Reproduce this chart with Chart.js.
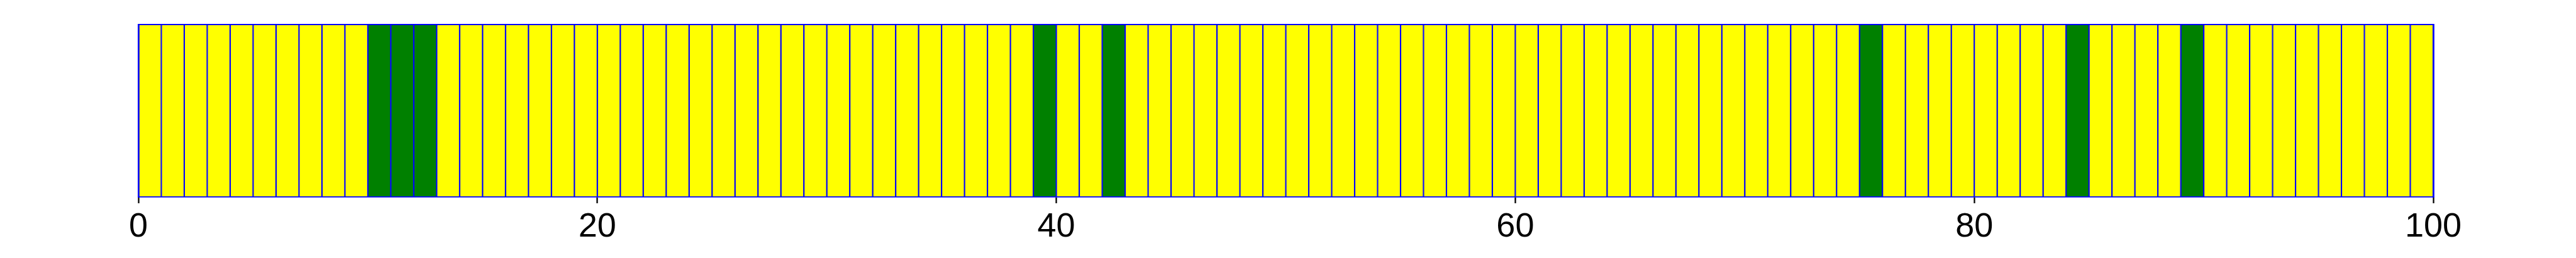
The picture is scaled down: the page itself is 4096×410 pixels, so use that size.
<!DOCTYPE html>
<html>
<head>
<meta charset="utf-8">
<script src="https://cdn.jsdelivr.net/npm/chart.js@4.4.1/dist/chart.umd.min.js"></script>
<style>
html, body { margin: 0; padding: 0; background: #fff; }
canvas { display: block; }
</style>
</head>
<body>
<canvas id="chart" width="4096" height="410"></canvas>
<script>
// left edge of each bar (bar width is 1)
const binStart = [
  0, 1, 2, 3, 4, 5, 6, 7, 8, 9,
  10, 11, 12, 13, 14, 15, 16, 17, 18, 19,
  20, 21, 22, 23, 24, 25, 26, 27, 28, 29,
  30, 31, 32, 33, 34, 35, 36, 37, 38, 39,
  40, 41, 42, 43, 44, 45, 46, 47, 48, 49,
  50, 51, 52, 53, 54, 55, 56, 57, 58, 59,
  60, 61, 62, 63, 64, 65, 66, 67, 68, 69,
  70, 71, 72, 73, 74, 75, 76, 77, 78, 79,
  80, 81, 82, 83, 84, 85, 86, 87, 88, 89,
  90, 91, 92, 93, 94, 95, 96, 97, 98, 99
];
// every bar fills the full height
const binHeight = [
  1, 1, 1, 1, 1, 1, 1, 1, 1, 1,
  1, 1, 1, 1, 1, 1, 1, 1, 1, 1,
  1, 1, 1, 1, 1, 1, 1, 1, 1, 1,
  1, 1, 1, 1, 1, 1, 1, 1, 1, 1,
  1, 1, 1, 1, 1, 1, 1, 1, 1, 1,
  1, 1, 1, 1, 1, 1, 1, 1, 1, 1,
  1, 1, 1, 1, 1, 1, 1, 1, 1, 1,
  1, 1, 1, 1, 1, 1, 1, 1, 1, 1,
  1, 1, 1, 1, 1, 1, 1, 1, 1, 1,
  1, 1, 1, 1, 1, 1, 1, 1, 1, 1
];
// 1 = green bar, 0 = yellow bar
const binState = [
  0, 0, 0, 0, 0, 0, 0, 0, 0, 0,
  1, 1, 1, 0, 0, 0, 0, 0, 0, 0,
  0, 0, 0, 0, 0, 0, 0, 0, 0, 0,
  0, 0, 0, 0, 0, 0, 0, 0, 0, 1,
  0, 0, 1, 0, 0, 0, 0, 0, 0, 0,
  0, 0, 0, 0, 0, 0, 0, 0, 0, 0,
  0, 0, 0, 0, 0, 0, 0, 0, 0, 0,
  0, 0, 0, 0, 0, 1, 0, 0, 0, 0,
  0, 0, 0, 0, 1, 0, 0, 0, 0, 1,
  0, 0, 0, 0, 0, 0, 0, 0, 0, 0
];
const xTicks = [0, 20, 40, 60, 80, 100];

const blue = '#0000ff';
const frameH = { display: true, color: blue, width: 1.7, z: 1 };
const frameV = { display: true, color: blue, width: 2.8, z: 1 };

const points = binStart.map((s, i) => ({ x: s + 0.5, y: binHeight[i] }));
const fills = binState.map(s => s ? '#008000' : '#ffff00');

const ctx = document.getElementById('chart').getContext('2d');
const chart = new Chart(ctx, {
  type: 'bar',
  data: {
    datasets: [{
      data: points,
      backgroundColor: fills,
      borderColor: blue,
      borderWidth: 1.42,
      borderSkipped: false,
      barPercentage: 1,
      categoryPercentage: 1
    }]
  },
  options: {
    responsive: false,
    devicePixelRatio: 1,
    animation: false,
    layout: { padding: { left: 220, right: 227, top: 39, bottom: 0 } },
    plugins: { legend: { display: false }, tooltip: { enabled: false } },
    scales: {
      x: {
        type: 'linear',
        position: 'bottom',
        min: 0, max: 100,
        offset: false,
        afterBuildTicks: s => { s.ticks = xTicks.map(v => ({ value: v })); },
        afterFit: s => { s.height = 97; },
        ticks: {
          color: '#000',
          padding: 6,
          maxRotation: 0,
          font: { family: 'Liberation Sans', size: 54 }
        },
        grid: {
          offset: false,
          drawOnChartArea: false,
          drawTicks: true,
          tickLength: 10,
          tickWidth: 2.3,
          tickColor: '#000'
        },
        border: frameH
      },
      y: {
        min: 0, max: 1,
        afterFit: s => { s.width = 0; },
        ticks: { display: false },
        grid: { display: false },
        border: frameV
      },
      x2: {
        type: 'linear',
        position: 'top',
        min: 0, max: 100,
        afterFit: s => { s.height = 0; },
        ticks: { display: false },
        grid: { display: false },
        border: frameH
      },
      y2: {
        type: 'linear',
        position: 'right',
        min: 0, max: 1,
        afterFit: s => { s.width = 0; },
        ticks: { display: false },
        grid: { display: false },
        border: frameV
      }
    }
  }
});
</script>
</body>
</html>
